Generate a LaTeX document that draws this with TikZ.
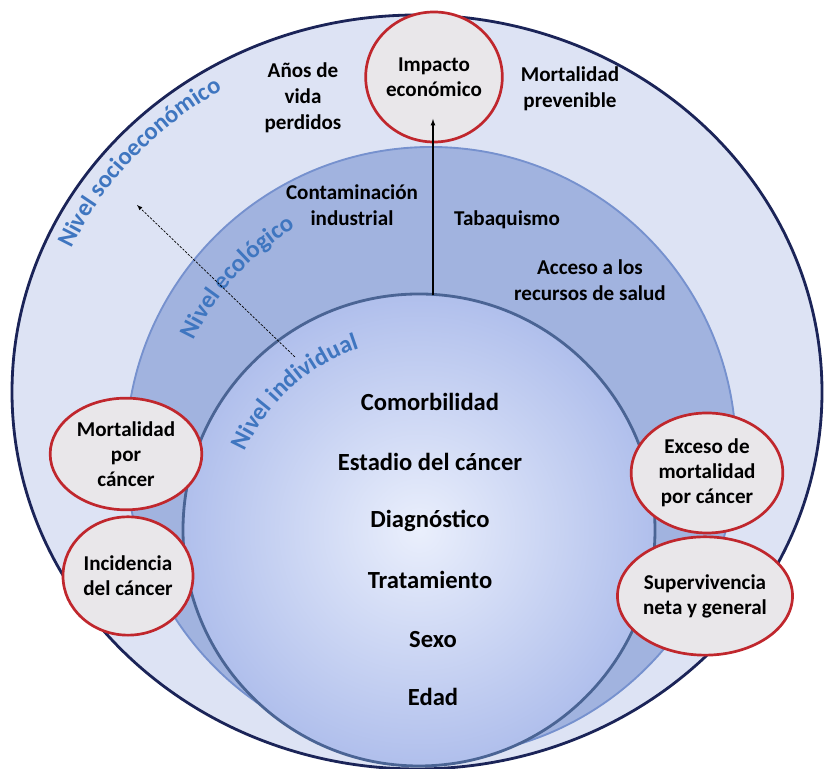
\documentclass[tikz,border=0pt]{standalone}
\usepackage{fontspec}
\setmainfont{Carlito}
\usetikzlibrary{shapes.geometric,decorations.text,arrows}
\definecolor{outerfill}{HTML}{DDE3F4}
\definecolor{outerrim}{HTML}{1B2458}
\definecolor{ecofill}{HTML}{A1B3DF}
\definecolor{ecorim}{HTML}{7691CE}
\definecolor{indlight}{HTML}{EAEFFC}
\definecolor{inddark}{HTML}{B0BFEC}
\definecolor{indrim}{HTML}{4A6494}
\definecolor{redrim}{HTML}{C0272D}
\definecolor{greyfill}{HTML}{E9E7EA}
\definecolor{levelblue}{HTML}{3F76C0}
\begin{document}
\begin{tikzpicture}[
				x=0.03cm, y=0.03cm,
				outcome/.style={ellipse, draw=redrim, line width=2.3pt, fill=greyfill, align=center, inner sep=0pt, font=\bfseries\fontsize{18}{21.5}\selectfont},
				factor/.style={align=center, font=\bfseries\fontsize{18}{22}\selectfont},
				core factor/.style={font=\bfseries\fontsize{21}{22}\selectfont},
				level name/.style={decorate, decoration={text along path, text align=center, text={|\color{levelblue}\bfseries\fontsize{21}{21}\selectfont|#1}}}
			]
			\useasboundingbox (0,0) rectangle (826,769);
			% levels
			\draw[fill=outerfill, draw=outerrim, line width=2.4pt] (417,377) ellipse [x radius=405, y radius=377];
			\draw[fill=ecofill, draw=ecorim, line width=1.6pt] (431,317) circle [radius=305];
			\shade[inner color=indlight, outer color=inddark] (419,239) circle [radius=236];
			\draw[draw=indrim, line width=2.4pt] (419,239) circle [radius=236];
			\path[level name={Nivel socioeconómico}] (417,377) ++(175:378 and 352) arc[start angle=175, end angle=103, x radius=378, y radius=352];
			\path[level name={Nivel ecológico}] (431,317) ++(168:262) arc[start angle=168, end angle=108, radius=262];
			\path[level name={Nivel individual}] (419,239) ++(164:191) arc[start angle=164, end angle=100, radius=191];
			% outcomes
			\node[outcome, minimum width=4.1cm, minimum height=3.9cm] (impacto) at (434,692) {Impacto\\económico};
			\node[outcome, minimum width=4.55cm, minimum height=3.35cm] (mortcancer) at (126,315) {Mortalidad\\por\\cáncer};
			\node[outcome, minimum width=3.9cm, minimum height=3.55cm] (incidencia) at (128,193) {Incidencia\\del cáncer};
			\node[outcome, minimum width=4.55cm, minimum height=3.6cm] (exceso) at (707,296) {Exceso de\\mortalidad\\por cáncer};
			\node[outcome, minimum width=4.5cm, minimum height=3.55cm] (superviv) at (705,173) {Supervivencia\\neta y general};
			% factors
			\node[factor] (anos) at (303,671) {Años de\\vida\\perdidos};
			\node[factor] (prevenible) at (570,680) {Mortalidad\\prevenible};
			\node[factor] (contaminacion) at (352,564) {Contaminación\\industrial};
			\node[factor] (tabaco) at (507,549) {Tabaquismo};
			\node[factor] (acceso) at (590,489) {Acceso a los\\recursos de salud};
			\node[core factor] (comorb) at (430,367) {Comorbilidad};
			\node[core factor] (estadio) at (430,307) {Estadio del cáncer};
			\node[core factor] (diagn) at (430,248) {Diagnóstico};
			\node[core factor] (tratam) at (430,189) {Tratamiento};
			\node[core factor] (sexo) at (433,129) {Sexo};
			\node[core factor] (edad) at (433,72) {Edad};
			% arrows
			\coordinate (indtop) at (433,474);
			\coordinate (imptip) at (433,650);
			\coordinate (dashfrom) at (295,412);
			\coordinate (dashto) at (137,564);
			\draw[-latex, line width=0.9pt] (indtop) -- (imptip);
			\draw[-latex, dash pattern=on 2pt off 1.2pt, line width=0.6pt] (dashfrom) -- (dashto);
		\end{tikzpicture}
\end{document}
